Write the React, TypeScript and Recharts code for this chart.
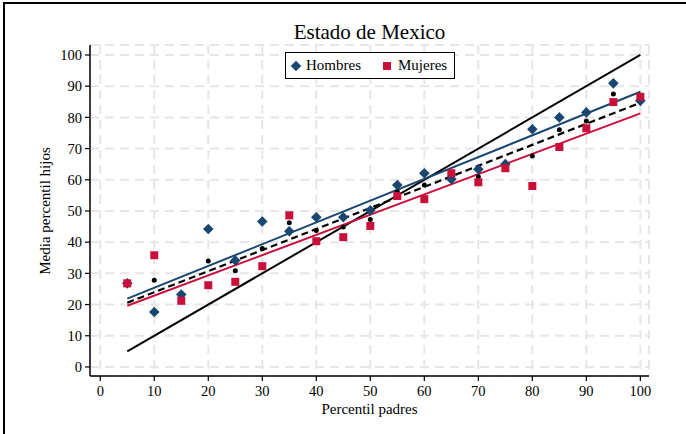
import React from 'react';
import { ComposedChart, XAxis, YAxis, CartesianGrid, Scatter, Line } from 'recharts';

const percentiles = [5, 10, 15, 20, 25, 30, 35, 40, 45, 50, 55, 60, 65, 70, 75, 80, 85, 90, 95, 100];
const hombres = [26.8, 17.6, 23.2, 44.2, 34.1, 46.6, 43.5, 48.0, 48.0, 50.2, 58.3, 62.1, 60.2, 63.4, 65.0, 76.2, 80.0, 81.6, 90.9, 85.3];
const mujeres = [26.8, 35.8, 21.2, 26.2, 27.3, 32.3, 48.6, 40.3, 41.6, 45.2, 54.8, 53.8, 62.1, 59.2, 63.7, 58.0, 70.5, 76.5, 84.9, 86.6];
const total = [26.5, 27.8, 22.5, 34.0, 30.8, 38.0, 46.2, 43.7, 44.9, 47.3, 56.2, 58.3, 61.2, 61.0, 64.5, 67.6, 76.0, 78.8, 87.5, 86.0];

const fitX = [5, 100];
const fitHombres = [21.9, 88.2];
const fitMujeres = [19.6, 81.3];
const fitTotal = [20.6, 84.7];
const diagonal = [5, 100];

const axisTicks = [0, 10, 20, 30, 40, 50, 60, 70, 80, 90, 100];

const TITLE = 'Estado de Mexico';
const X_LABEL = 'Percentil padres';
const Y_LABEL = 'Media percentil hijos';
const SERIES_NAMES = ['Hombres', 'Mujeres'];

const BLUE = '#1a476f';
const RED = '#c8103a';
const FONT = '"Liberation Serif", "Times New Roman", serif';

const toPts = (xs: number[], ys: number[]) => xs.map((x, i) => ({ x, y: ys[i] }));

const hombresData = toPts(percentiles, hombres);
const mujeresData = toPts(percentiles, mujeres);
const totalData = toPts(percentiles, total);
const fitHData = toPts(fitX, fitHombres);
const fitMData = toPts(fitX, fitMujeres);
const fitTData = toPts(fitX, fitTotal);
const diagData = toPts(fitX, diagonal);

const DiamondShape = (props: any) => {
  const { cx, cy } = props;
  const r = 5.3;
  return <polygon points={`${cx},${cy - r} ${cx + r},${cy} ${cx},${cy + r} ${cx - r},${cy}`} fill={BLUE} />;
};
const SquareShape = (props: any) => {
  const { cx, cy } = props;
  const s = 8;
  return <rect x={cx - s / 2} y={cy - s / 2} width={s} height={s} fill={RED} />;
};
const DotShape = (props: any) => {
  const { cx, cy } = props;
  return <circle cx={cx} cy={cy} r={2.5} fill="#000" />;
};

export default function App() {
  return (
    <div style={{ position: 'absolute', left: 0, top: 0, width: 686, height: 434, background: '#fff', overflow: 'hidden', fontFamily: FONT }}>
      <div style={{ position: 'absolute', left: 3, top: 2, width: 2, height: 432, background: '#000' }} />
      <div style={{ position: 'absolute', left: 3, top: 2, width: 683, height: 2, background: '#000' }} />
      <div style={{ position: 'absolute', left: 0, top: 22, width: 739, textAlign: 'center', fontSize: 21, lineHeight: '21px', color: '#000' }}>{TITLE}</div>
      <div style={{ position: 'absolute', left: 0, top: 402, width: 739, textAlign: 'center', fontSize: 15, lineHeight: '15px', color: '#000' }}>{X_LABEL}</div>
      <div style={{ position: 'absolute', left: 45, top: 211, transform: 'translate(-50%, -50%) rotate(-90deg)', whiteSpace: 'nowrap', fontSize: 15, lineHeight: '15px', color: '#000' }}>{Y_LABEL}</div>
      <ComposedChart width={686} height={434} margin={{ top: 45, right: 37, left: 30, bottom: 18 }} style={{ position: 'absolute', left: 0, top: 0 }}>
        <CartesianGrid stroke="#e6e6e6" strokeWidth={2} strokeDasharray="9 6" ticks={axisTicks as any} />
        <XAxis
          type="number"
          dataKey="x"
          domain={[-1.9, 101.6]}
          ticks={axisTicks}
          allowDataOverflow
          height={40}
          tickSize={5}
          tickMargin={5}
          stroke="#000"
          axisLine={{ stroke: '#000', strokeWidth: 1.5 }}
          tickLine={{ stroke: '#000', strokeWidth: 1.2 }}
          tick={{ fill: '#000', fontSize: 14.5, fontFamily: FONT }}
          interval={0}
        />
        <YAxis
          type="number"
          dataKey="y"
          domain={[-2.9, 103.2]}
          ticks={axisTicks}
          allowDataOverflow
          width={60}
          tickSize={5}
          tickMargin={3}
          stroke="#000"
          axisLine={{ stroke: '#000', strokeWidth: 1.5 }}
          tickLine={{ stroke: '#000', strokeWidth: 1.2 }}
          tick={{ fill: '#000', fontSize: 14.5, fontFamily: FONT }}
          interval={0}
        />
        <Line data={diagData} dataKey="y" stroke="#000" strokeWidth={2} dot={false} activeDot={false} isAnimationActive={false} />
        <Line data={fitHData} dataKey="y" stroke={BLUE} strokeWidth={2} dot={false} activeDot={false} isAnimationActive={false} />
        <Line data={fitMData} dataKey="y" stroke={RED} strokeWidth={2} dot={false} activeDot={false} isAnimationActive={false} />
        <Line data={fitTData} dataKey="y" stroke="#000" strokeWidth={2.2} strokeDasharray="7 4" dot={false} activeDot={false} isAnimationActive={false} />
        <Scatter data={totalData} dataKey="y" shape={DotShape} isAnimationActive={false} />
        <Scatter name={SERIES_NAMES[0]} data={hombresData} dataKey="y" shape={DiamondShape} isAnimationActive={false} />
        <Scatter name={SERIES_NAMES[1]} data={mujeresData} dataKey="y" shape={SquareShape} isAnimationActive={false} />
      </ComposedChart>
      <div style={{ position: 'absolute', left: 285, top: 52, width: 170, height: 27, boxSizing: 'border-box', border: '1px solid #000', background: '#fff', fontSize: 15, color: '#000' }}>
        <svg width={12} height={12} style={{ position: 'absolute', left: 3.5, top: 6.5 }}>
          <polygon points="6,0.7 11.3,6 6,11.3 0.7,6" fill={BLUE} />
        </svg>
        <div style={{ position: 'absolute', left: 20, top: 5, lineHeight: '15px' }}>{SERIES_NAMES[0]}</div>
        <svg width={10} height={10} style={{ position: 'absolute', left: 96, top: 7.5 }}>
          <rect x={1} y={1} width={8} height={8} fill={RED} />
        </svg>
        <div style={{ position: 'absolute', left: 112, top: 5, lineHeight: '15px' }}>{SERIES_NAMES[1]}</div>
      </div>
    </div>
  );
}
